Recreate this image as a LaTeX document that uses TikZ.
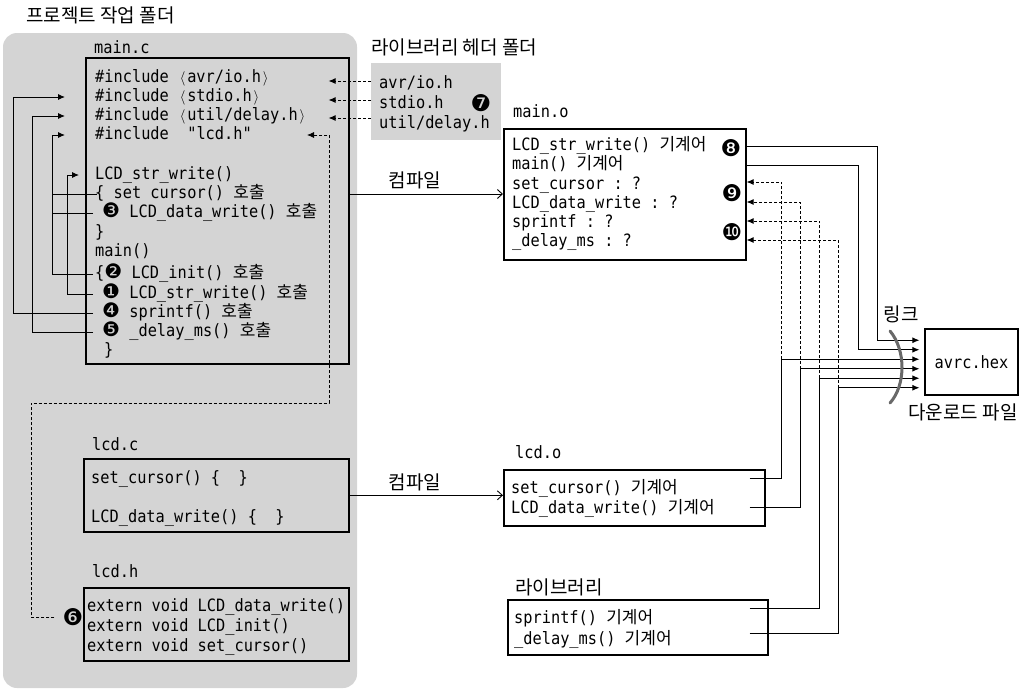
\documentclass[tikz,border=0pt]{standalone}
\usepackage{fontspec}
\setmonofont[FakeStretch=0.9]{DejaVu Sans Mono}
\newfontfamily\krfont{Noto Sans CJK KR}
\newfontfamily\dingfont{DejaVu Sans}
\usetikzlibrary{arrows.meta,calc,positioning}
\definecolor{panel}{RGB}{212,212,212}
\definecolor{bracketgray}{RGB}{105,105,105}
\newcommand{\kr}[1]{{\krfont\fontsize{17}{18}\selectfont #1}}
\newcommand{\cn}[1]{{\dingfont\fontsize{20}{18}\selectfont #1}}
\newcommand{\ang}[1]{\makebox[0.54em]{\fontsize{15}{15}\selectfont$\langle$}#1\makebox[0.54em]{\fontsize{15}{15}\selectfont$\rangle$}}
\newcommand{\codefont}{\ttfamily\fontsize{17}{19}\selectfont}
\newcommand{\capfont}{\krfont\fontsize{19}{20}\selectfont}
\newcommand{\bigdot}{\dingfont\fontsize{23}{24}\selectfont}

\begin{document}
\begin{tikzpicture}[x=1pt,y=-1pt,
    code/.style={font=\codefont, anchor=west, inner sep=0pt, text height=12pt, text depth=3pt},
    kcap/.style={font=\capfont, inner sep=0pt},
    badge/.style={font=\bigdot, inner sep=0pt},
    box/.style={draw, line width=1.6pt, anchor=north west, inner sep=0pt},
    wire/.style={line width=0.9pt},
    dashwire/.style={line width=0.8pt, dash pattern=on 3pt off 2pt},
    arr/.style={-{Latex[length=7pt,width=6pt]}}]
  \useasboundingbox (0,0) rectangle (1023,691);
  % project folder
  \fill[panel, rounded corners=14pt] (3,33) rectangle (357,688);
  \node[kcap, anchor=west] (tproj) at (26,15) {프로젝트 작업 폴더};

  % main.c
  \node[code] (lmainc) at (94,49) {main.c};
  \node[box, minimum width=263, minimum height=306] (mainc) at (85,57) {};
  \node[code] (c1) at (95,78) {\#include \ang{avr/io.h}};
  \node[code] (c2) at (95,97) {\#include \ang{stdio.h}};
  \node[code] (c3) at (95,116) {\#include \ang{util/delay.h}};
  \node[code] (c4) at (95,135) {\#include\ \ "lcd.h"};
  \node[code] (c5) at (95,175) {LCD\_str\_write()};
  \node[code] (c6) at (95,194) {\{ set cursor() \kr{호출}};
  \node[code] (c7) at (102,213) {\cn{❸} LCD\_data\_write() \kr{호출}};
  \node[code] (c8) at (95,233) {\}};
  \node[code] (c9) at (95,252) {main()};
  \node[code] (c10) at (95,274) {\{\cn{❷} LCD\_init() \kr{호출}};
  \node[code] (c11) at (102,294) {\cn{❶} LCD\_str\_write() \kr{호출}};
  \node[code] (c12) at (102,313) {\cn{❹} sprintf() \kr{호출}};
  \node[code] (c13) at (102,332) {\cn{❺} \_delay\_ms() \kr{호출}};
  \node[code] (c14) at (104,351) {\}};

  % calls inside main.c
  \draw[wire,arr] ([xshift=-9pt]c12.west) -- ++(-80,0) |- ($(c2.west)+(-30,0)$);
  \draw[wire,arr] ([xshift=-9pt]c13.west) -- ++(-61,0) |- ($(c3.west)+(-30,0)$);
  \draw[wire,arr] ([xshift=-2pt]c10.west) -- ++(-41,0) |- ($(c4.west)+(-30,0)$);
  \draw[wire] ([xshift=2pt]c6.west) -- ++(-45,0);
  \draw[wire] ([xshift=-9pt]c7.west) -- ++(-41,0);
  \draw[wire,arr] ([xshift=-9pt]c11.west) -- ++(-26,0) |- ($(c5.west)+(-16,0)$);

  % library headers
  \node[kcap, anchor=west] (thdr) at (371,47) {라이브러리 헤더 폴더};
  \node[fill=panel, minimum width=130, minimum height=77, anchor=north west, inner sep=0pt] (hdr) at (371,63) {};
  \node[code] (h1) at (379,84) {avr/io.h};
  \node[code] (h2) at (379,104) {stdio.h};
  \node[code] (h3) at (379,124) {util/delay.h};
  \node[badge] (n7) at (481,103) {❼};
  \draw[dashwire,arr] ($(hdr.west |- c1)+(0,3)$) -- ($(mainc.east |- c1)+(-21,3)$);
  \draw[dashwire,arr] ($(hdr.west |- c2)+(0,3)$) -- ($(mainc.east |- c2)+(-21,3)$);
  \draw[dashwire,arr] ($(hdr.west |- c3)+(0,2)$) -- ($(mainc.east |- c3)+(-21,2)$);

  % lcd.c
  \node[code] (llcdc) at (92,446) {lcd.c};
  \node[box, minimum width=265, minimum height=73] (lcdc) at (83,458) {};
  \node[code] (d1) at (91,479) {set\_cursor() \{\ \ \}};
  \node[code] (d2) at (91,518) {LCD\_data\_write() \{\ \ \}};

  % lcd.h
  \node[code] (llcdh) at (92,573) {lcd.h};
  \node[box, minimum width=265, minimum height=73] (lcdh) at (83,587) {};
  \node[code] (e1) at (87,607) {extern void LCD\_data\_write()};
  \node[code] (e2) at (87,627) {extern void LCD\_init()};
  \node[code] (e3) at (87,647) {extern void set\_cursor()};
  \node[badge] (n6) at (73,617) {❻};
  \coordinate (dl) at (31,403);
  \coordinate (dr) at (329,403);
  \draw[dashwire,arr] ([xshift=-8pt]n6.west) -| (dl) -- (dr) |- ($(c4.west)+(212,0)$);

  % main.o
  \node[code] (lmaino) at (513,113) {main.o};
  \node[box, minimum width=242, minimum height=131] (maino) at (503,128) {};
  \node[code] (o1) at (512,146) {LCD\_str\_write() \kr{기계어}};
  \node[code] (o2) at (512,165) {main() \kr{기계어}};
  \node[code] (o3) at (512,185) {set\_cursor : ?};
  \node[code] (o4) at (512,204) {LCD\_data\_write : ?};
  \node[code] (o5) at (512,223) {sprintf : ?};
  \node[code] (o6) at (512,242) {\_delay\_ms : ?};
  \node[badge] (n8) at (731,148) {❽};
  \node[badge] (n9) at (732,193) {❾};
  \node[badge] (n10) at (732,232) {❿};

  % compile
  \draw[wire,-{Straight Barb[length=5pt,width=9pt]}] (mainc.east |- c6) -- (maino.west |- c6);
  \node[kcap] (comp1) at (415,180) {컴파일};

  % lcd.o
  \node[code] (llcdo) at (515,454) {lcd.o};
  \node[box, minimum width=261, minimum height=56] (lcdo) at (503,469) {};
  \node[code] (lo1) at (511,489) {set\_cursor() \kr{기계어}};
  \node[code] (lo2) at (511,509) {LCD\_data\_write() \kr{기계어}};
  \draw[wire,-{Straight Barb[length=5pt,width=9pt]}] (lcdc.east) -- (lcdc.east -| lcdo.west);
  \node[kcap] (comp2) at (415,482) {컴파일};

  % library
  \node[kcap, anchor=west] (tlib) at (515,587) {라이브러리};
  \node[box, minimum width=260, minimum height=55] (lib) at (507,599) {};
  \node[code] (b1) at (514,619) {sprintf() \kr{기계어}};
  \node[code] (b2) at (514,640) {\_delay\_ms() \kr{기계어}};

  % avrc.hex
  \node[draw, line width=1.2pt, minimum width=93, minimum height=66, font=\codefont] (avr) at (971.5,362) {avrc.hex};
  \node[kcap] (tdown) at (963,412) {다운로드 파일};
  \node[kcap] (tlink) at (901,314) {링크};
  \foreach \i in {1,...,6}
    \coordinate (in\i) at ($(avr.west)+(-5,{9.5*\i-31.25})$);

  % link
  \draw[wire,arr] (maino.east |- o1) -| ([xshift=-42pt]in1) -- (in1);
  \draw[wire,arr] (maino.east |- o2) -| ([xshift=-61pt]in2) -- (in2);
  \draw[wire,arr] ($(lcdo.east |- lo1)+(-16,-11)$) -| ([xshift=-138pt]in3) -- (in3);
  \draw[wire,arr] ($(lcdo.east |- lo2)+(-16,-2)$) -| ([xshift=-119pt]in4) -- (in4);
  \draw[wire,arr] ($(lib.east |- b1)+(-19,-11)$) -| ([xshift=-100pt]in5) -- (in5);
  \draw[wire,arr] ($(lib.east |- b2)+(-19,-7)$) -| ([xshift=-81pt]in6) -- (in6);
  \draw[dashwire,arr] ([xshift=-138pt]in3) |- ($(maino.east |- o3)+(0,-3)$);
  \draw[dashwire,arr] ([xshift=-119pt]in4) |- ($(maino.east |- o4)+(0,-2)$);
  \draw[dashwire,arr] ([xshift=-100pt]in5) |- ($(maino.east |- o5)+(0,-2)$);
  \draw[dashwire,arr] ([xshift=-81pt]in6) |- ($(maino.east |- o6)+(0,-2)$);
  \draw[bracketgray, line width=3pt, line cap=round] (890,331) .. controls (906,350) and (906,385) .. (890,403);
\end{tikzpicture}
\end{document}
